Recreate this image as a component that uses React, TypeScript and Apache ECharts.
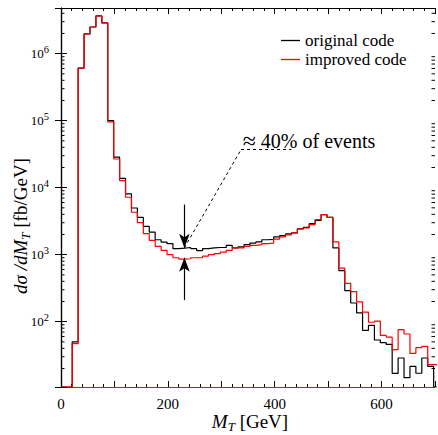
import React, { useEffect, useRef } from "react";
import * as echarts from "echarts";

// ---- data -----------------------------------------------------------------
const X_MIN = 0;
const X_MAX = 700;
const X_TICK_LABELS = [0, 200, 400, 600];
const Y_MIN = 10.6;
const Y_MAX = 4.8e6;
const Y_DECADES = [1, 2, 3, 4, 5, 6];

// histogram binning (GeV)
const BIN_START = 21;
const BIN_WIDTH = 11.09;

const SERIES_NAMES = ["original code", "improved code"];

// d sigma / d M_T  [fb/GeV], one value per bin
const originalValues = [
  50, 6.1e5, 1.97e6, 2.5e6, 3.65e6, 2.87e6, 1.0e5, 2.85e4, 1.38e4, 8.1e3,
  4.97e3, 3.6e3, 2.64e3, 2.17e3, 1.67e3, 1.54e3, 1.46e3, 1.23e3, 1.25e3, 1.28e3,
  1.23e3, 1.15e3, 1.23e3, 1.26e3, 1.28e3, 1.28e3, 1.38e3, 1.26e3, 1.31e3, 1.41e3,
  1.49e3, 1.55e3, 1.67e3, 1.69e3, 1.84e3, 1.92e3, 2.04e3, 2.11e3, 2.42e3, 2.56e3,
  2.9e3, 3.25e3, 3.95e3, 3.6e3, 1.26e3, 577, 290, 190, 135, 74,
  88, 53.3, 48.6, 45.8, 16.9, 28.7, 14.6, 21.5, 17, 28.7,
  21.5, 0,
];
const improvedValues = [
  47, 6.1e5, 1.97e6, 2.5e6, 3.65e6, 2.87e6, 9.6e4, 2.68e4, 1.27e4, 7.2e3,
  4.3e3, 3.0e3, 2.06e3, 1.64e3, 1.33e3, 1.16e3, 1.0e3, 900, 860, 870,
  900, 900, 950, 1000, 1040, 1090, 1160, 1260, 1260, 1330,
  1380, 1410, 1460, 1490, 1710, 1840, 1970, 2110, 2420, 2500,
  2800, 3330, 3950, 3600, 1550, 632, 373, 281, 198, 139,
  98, 102, 62.5, 58.7, 38.2, 76, 65.5, 33.6, 40.9, 42.8,
  22.8, 22.8,
];

// annotation (data coordinates)
const ARROW_X = 231;
const ARROW_TOP = 5600;
const ARROW_BOTTOM = 210;
const ORIGINAL_LEVEL = 1270;
const IMPROVED_LEVEL = 900;
const LEADER_KNEE = [337, 3.7e4];
const LEADER_END_X = 431;
const NOTE_POS = [340, 5.0e4];
const NOTE_TEXT = "{a|\u2248} 40% of events";

const SERIF = "'Liberation Serif', 'Times New Roman', serif";

function toSteps(values: number[]) {
  const pts: number[][] = [[X_MIN, Y_MIN]];
  values.forEach((v, i) => {
    pts.push([BIN_START + i * BIN_WIDTH, v > 0 ? v : Y_MIN]);
  });
  const last = values[values.length - 1];
  pts.push([BIN_START + values.length * BIN_WIDTH, last > 0 ? last : Y_MIN]);
  return pts;
}

function minorYTicks() {
  const out: number[][] = [];
  Y_DECADES.forEach((d) => {
    for (let m = 2; m <= 9; m++) {
      const v = m * Math.pow(10, d);
      if (v > Y_MIN && v < Y_MAX) out.push([X_MIN, v]);
    }
  });
  return out;
}

function isPow10(v: number) {
  const l = Math.log10(v);
  return Math.abs(l - Math.round(l)) < 1e-6;
}

const titleRich = {
  i: { fontFamily: SERIF, fontSize: 19, fontStyle: "italic", lineHeight: 24, fill: "#000" },
  n: { fontFamily: SERIF, fontSize: 19, lineHeight: 24, fill: "#000" },
  s: { fontFamily: SERIF, fontSize: 13, fontStyle: "italic", lineHeight: 14, verticalAlign: "bottom", fill: "#000" },
};

export default function App() {
  const ref = useRef<HTMLDivElement>(null);

  useEffect(() => {
    if (!ref.current) return;
    const chart = echarts.init(ref.current, undefined, { renderer: "svg" });

    const xAxisCommon = {
      type: "value" as const,
      min: X_MIN,
      max: X_MAX,
      interval: 100,
      splitLine: { show: false },
      axisTick: { show: true, inside: true, length: 6, lineStyle: { color: "#000", width: 1 } },
      minorTick: { show: true, splitNumber: 5, length: 3, lineStyle: { color: "#000", width: 1 } },
      minorSplitLine: { show: false },
    };
    const yAxisCommon = {
      type: "log" as const,
      logBase: 10,
      min: Y_MIN,
      max: Y_MAX,
      splitLine: { show: false },
      axisTick: { show: true, inside: true, length: 6, lineStyle: { color: "#000", width: 1 } },
    };

    chart.setOption({
      animation: false,
      backgroundColor: "#fff",
      grid: { left: 61, right: 1, top: 8, bottom: 48, show: false },
      legend: {
        data: SERIES_NAMES,
        orient: "vertical",
        left: 281,
        top: 32,
        padding: 0,
        itemGap: 2,
        itemWidth: 19,
        itemHeight: 1.3,
        icon: "rect",
        selectedMode: false,
        textStyle: { fontFamily: SERIF, fontSize: 17, color: "#000", lineHeight: 17 },
      },
      xAxis: [
        {
          ...xAxisCommon,
          position: "bottom",
          axisLine: { show: true, lineStyle: { color: "#ff0000", width: 1.2 } },
          axisLabel: {
            show: true,
            margin: 9,
            fontFamily: SERIF,
            fontSize: 15,
            color: "#000",
            formatter: (v: number) => (X_TICK_LABELS.includes(v) ? String(v) : ""),
          },
        },
        {
          ...xAxisCommon,
          position: "top",
          axisLine: { show: true, lineStyle: { color: "#000", width: 1.2 } },
          axisLabel: { show: false },
        },
      ],
      yAxis: [
        {
          ...yAxisCommon,
          position: "left",
          axisLine: { show: true, lineStyle: { color: "#000", width: 1.2 } },
          axisLabel: {
            show: true,
            margin: 12,
            formatter: (v: number) =>
              isPow10(v) ? `{b|10}{s|${Math.round(Math.log10(v))}}` : "",
            rich: {
              b: { fontFamily: SERIF, fontSize: 13, color: "#000", lineHeight: 20 },
              s: { fontFamily: SERIF, fontSize: 10.5, color: "#000", lineHeight: 10, verticalAlign: "top" },
            },
          },
        },
        {
          ...yAxisCommon,
          position: "right",
          axisLine: { show: true, lineStyle: { color: "#000", width: 1.2 } },
          axisLabel: { show: false },
        },
      ],
      series: [
        {
          name: SERIES_NAMES[0],
          type: "line",
          step: "end",
          data: toSteps(originalValues),
          symbol: "none",
          color: "#000",
          lineStyle: { color: "#000", width: 1.2 },
          clip: true,
          z: 3,
          markLine: {
            silent: true,
            symbol: ["none", "arrow"],
            symbolSize: [8, 14],
            label: { show: false },
            lineStyle: { color: "#000", width: 1.2, type: "solid" },
            data: [
              [{ coord: [ARROW_X, ARROW_TOP] }, { coord: [ARROW_X, ORIGINAL_LEVEL] }],
              [{ coord: [ARROW_X, ARROW_BOTTOM] }, { coord: [ARROW_X, IMPROVED_LEVEL] }],
            ],
          },
        },
        {
          name: SERIES_NAMES[1],
          type: "line",
          step: "end",
          data: toSteps(improvedValues),
          symbol: "none",
          color: "#ff0000",
          lineStyle: { color: "#ff0000", width: 1.2 },
          clip: true,
          z: 4,
          markLine: {
            silent: true,
            symbol: ["none", "none"],
            label: { show: false },
            lineStyle: { color: "#000", width: 1, type: [3, 3] },
            data: [
              [{ coord: [ARROW_X, ORIGINAL_LEVEL] }, { coord: LEADER_KNEE }],
              [{ coord: LEADER_KNEE }, { coord: [LEADER_END_X, LEADER_KNEE[1]] }],
            ],
          },
          markPoint: {
            silent: true,
            symbol: "circle",
            symbolSize: 0,
            data: [
              {
                coord: NOTE_POS,
                label: {
                  show: true,
                  position: "right",
                  distance: 0,
                  formatter: NOTE_TEXT,
                  fontFamily: SERIF,
                  fontSize: 20,
                  color: "#000",
                  rich: {
                    a: { fontFamily: SERIF, fontSize: 24, color: "#000" },
                  },
                },
              },
            ],
          },
        },
        {
          type: "custom",
          silent: true,
          data: minorYTicks(),
          encode: { x: 0, y: 1 },
          z: 5,
          renderItem: (params: any, api: any) => {
            const p = api.coord([X_MIN, api.value(1)]);
            const cs = params.coordSys;
            const st = { stroke: "#000", lineWidth: 1 };
            return {
              type: "group",
              children: [
                { type: "line", shape: { x1: cs.x, y1: p[1], x2: cs.x + 3.5, y2: p[1] }, style: st },
                {
                  type: "line",
                  shape: { x1: cs.x + cs.width - 3.5, y1: p[1], x2: cs.x + cs.width, y2: p[1] },
                  style: st,
                },
              ],
            };
          },
        },
      ],
      graphic: [
        {
          type: "text",
          x: 250,
          y: 421,
          style: {
            text: "{i|M}{s|T}{n| [GeV]}",
            align: "center",
            verticalAlign: "middle",
            rich: titleRich,
          },
        },
        {
          type: "text",
          x: 20,
          y: 226,
          rotation: Math.PI / 2,
          style: {
            text: "{i|d\u03C3 /dM}{s|T}{n| [fb/GeV]}",
            align: "center",
            verticalAlign: "middle",
            rich: titleRich,
          },
        },
      ],
    });

    return () => chart.dispose();
  }, []);

  return (
    <div
      ref={ref}
      style={{ position: "fixed", left: 0, top: 0, width: 438, height: 435, background: "#fff" }}
    />
  );
}
